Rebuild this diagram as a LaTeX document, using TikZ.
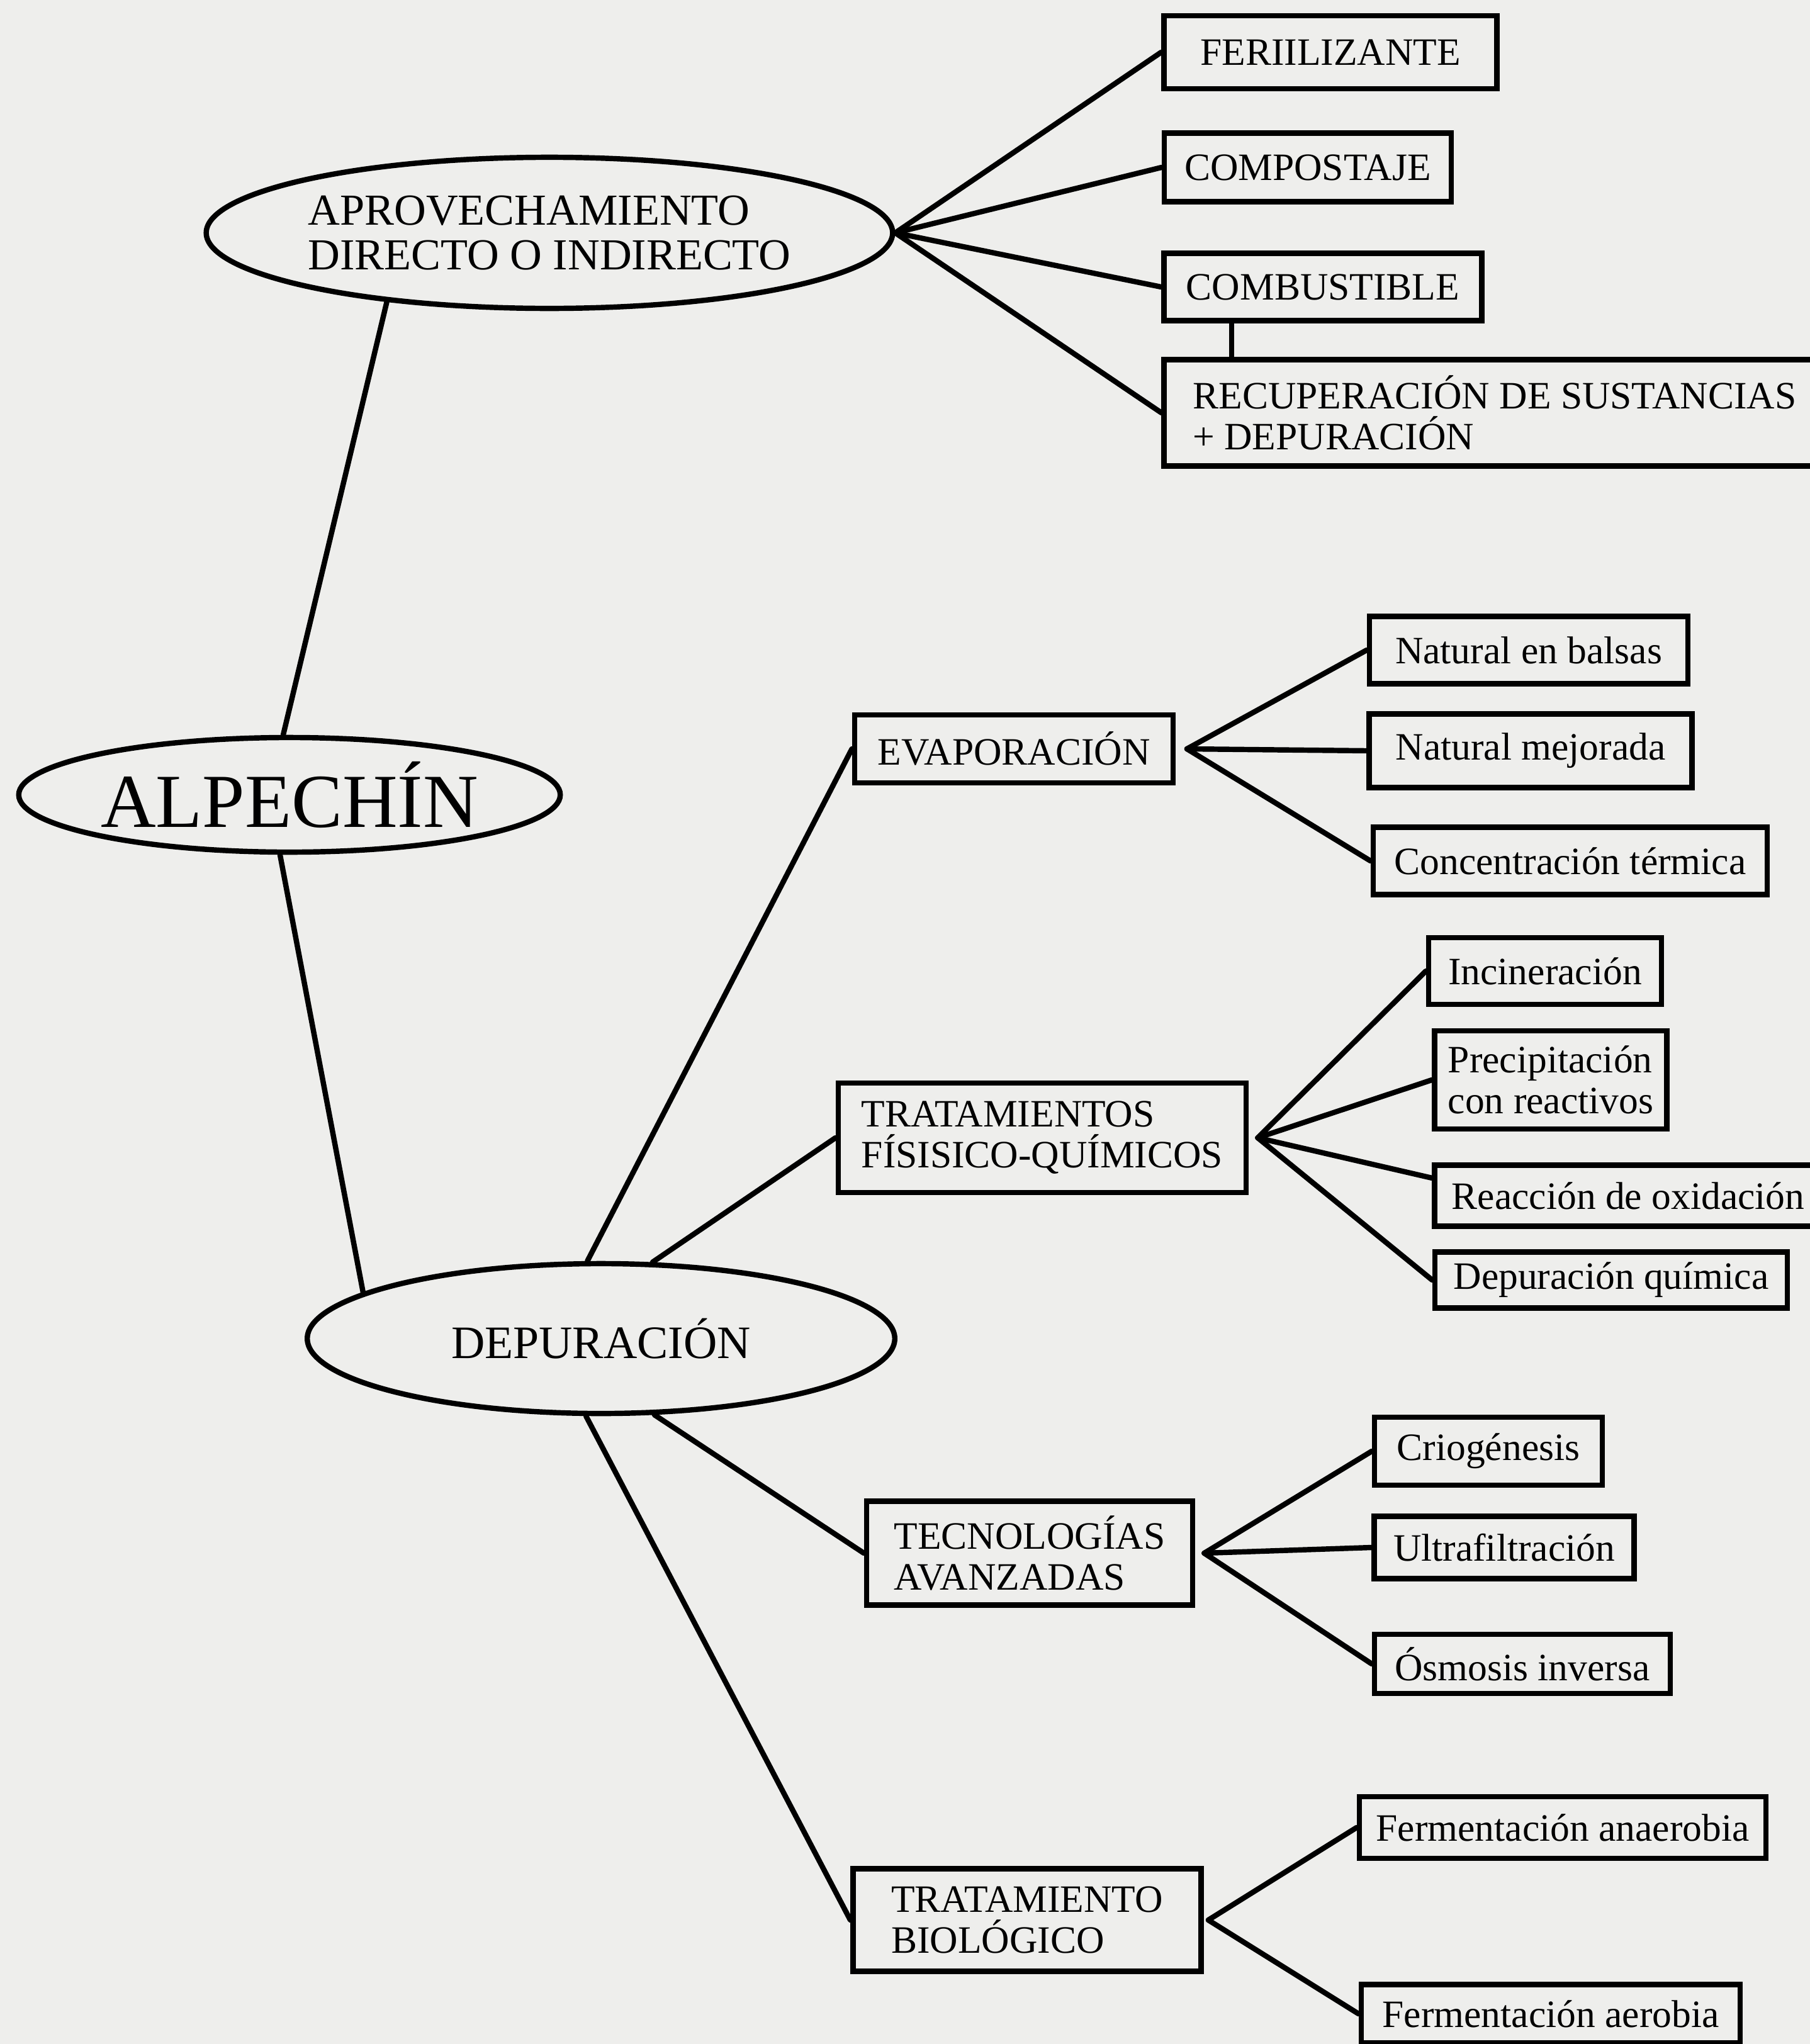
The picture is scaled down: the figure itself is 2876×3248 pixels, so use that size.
\documentclass[tikz,border=0pt]{standalone}
\usepackage{fontspec}
\setmainfont{Liberation Serif}
\usetikzlibrary{positioning, shapes.geometric}
\definecolor{paper}{RGB}{238,238,236}

\begin{document}
\begin{tikzpicture}[x=0.01cm, y=-0.01cm, line width=2.4pt, line cap=round,
        caja/.style={draw, rectangle, inner sep=0pt, align=left, font=\fontsize{17.5}{18.5}\selectfont},
        globo/.style={draw, ellipse, inner sep=0pt, align=left, font=\fontsize{20}{20}\selectfont}]
        \useasboundingbox[fill=paper] (0,0) rectangle (2876,3248);

        \node[globo, minimum width=10.9cm, minimum height=2.4cm] (aprov) at (873,370) {APROVECHAMIENTO\\DIRECTO O INDIRECTO};
        \node[globo, minimum width=8.6cm, minimum height=1.82cm, font=\fontsize{34.5}{36}\selectfont] (alpechin) at (460,1263) {ALPECHÍN};
        \node[globo, minimum width=9.33cm, minimum height=2.38cm, font=\fontsize{21}{22}\selectfont] (depur) at (955,2127) {DEPURACIÓN};

        \node[caja, minimum width=5.29cm, minimum height=1.16cm] (box fert) at (2114,83) {FERIILIZANTE};
        \node[caja, minimum width=4.56cm, minimum height=1.09cm] (box compost) at (2078,266) {COMPOSTAJE};
        \node[caja, minimum width=5.05cm, minimum height=1.07cm] (box combust) at (2102,456) {COMBUSTIBLE};
        \node[caja, minimum width=10.5cm, minimum height=1.69cm] (box recup) at (2375,656) {RECUPERACIÓN DE SUSTANCIAS\\+ DEPURACIÓN};

        \node[caja, minimum width=5.06cm, minimum height=1.08cm] (box evap) at (1611,1190) {EVAPORACIÓN};
        \node[caja, minimum width=5.06cm, minimum height=1.07cm] (box balsas) at (2429,1033) {Natural en balsas};
        \node[caja, minimum width=5.13cm, minimum height=1.17cm] (box mejorada) at (2432,1193) {Natural mejorada};
        \node[caja, minimum width=6.26cm, minimum height=1.07cm] (box termica) at (2495,1368) {Concentración térmica};

        \node[caja, minimum width=6.48cm, minimum height=1.74cm] (box fisico) at (1656,1808) {TRATAMIENTOS\\FÍSISICO-QUÍMICOS};
        \node[caja, minimum width=3.70cm, minimum height=1.06cm] (box incin) at (2455,1543) {Incineración};
        \node[caja, minimum width=3.69cm, minimum height=1.56cm] (box precip) at (2464,1716) {Precipitación\\con reactivos};
        \node[caja, minimum width=6.15cm, minimum height=0.97cm] (box oxid) at (2587,1900) {Reacción de oxidación};
        \node[caja, minimum width=5.60cm, minimum height=0.89cm] (box quimica) at (2560,2034) {Depuración química};

        \node[caja, minimum width=5.18cm, minimum height=1.65cm] (box tecno) at (1636,2468) {TECNOLOGÍAS\\AVANZADAS};
        \node[caja, minimum width=3.62cm, minimum height=1.08cm] (box crio) at (2365,2306) {Criogénesis};
        \node[caja, minimum width=4.13cm, minimum height=0.99cm] (box ultra) at (2390,2459) {Ultrafiltración};
        \node[caja, minimum width=4.70cm, minimum height=0.94cm] (box osmosis) at (2419,2644) {Ósmosis inversa};

        \node[caja, minimum width=5.53cm, minimum height=1.63cm] (box bio) at (1632,3051) {TRATAMIENTO\\BIOLÓGICO};
        \node[caja, minimum width=6.46cm, minimum height=0.98cm] (box anaer) at (2483,2904) {Fermentación anaerobia};
        \node[caja, minimum width=6.02cm, minimum height=0.93cm] (box aerob) at (2464,3200) {Fermentación aerobia};

        \foreach \i in {fert, compost, combust, recup}
        \draw (aprov.east) -- (box \i.west);
        \draw (box combust.south west) ++(112,0) coordinate (cb) -- (cb |- box recup.north);

        \draw (aprov.203) -- (alpechin.96);
        \draw (alpechin.261) -- (depur.169);

        \draw (depur.100) -- (box evap.west);
        \draw (depur.56) -- (box fisico.west);
        \draw (depur.305) -- (box tecno.west);
        \draw (depur.259) -- (box bio.west);

        \foreach \i in {balsas, mejorada, termica}
        \draw ([xshift=5pt]box evap.east) -- (box \i.west);
        \foreach \i in {incin, precip, quimica}
        \draw ([xshift=4pt]box fisico.east) -- (box \i.west);
        \draw ([xshift=4pt]box fisico.east) -- ([yshift=8pt]box oxid.west);
        \foreach \i in {crio, ultra, osmosis}
        \draw ([xshift=4pt]box tecno.east) -- (box \i.west);
        \foreach \i in {anaer, aerob}
        \draw ([xshift=2pt]box bio.east) -- (box \i.west);

    \end{tikzpicture}
\end{document}
